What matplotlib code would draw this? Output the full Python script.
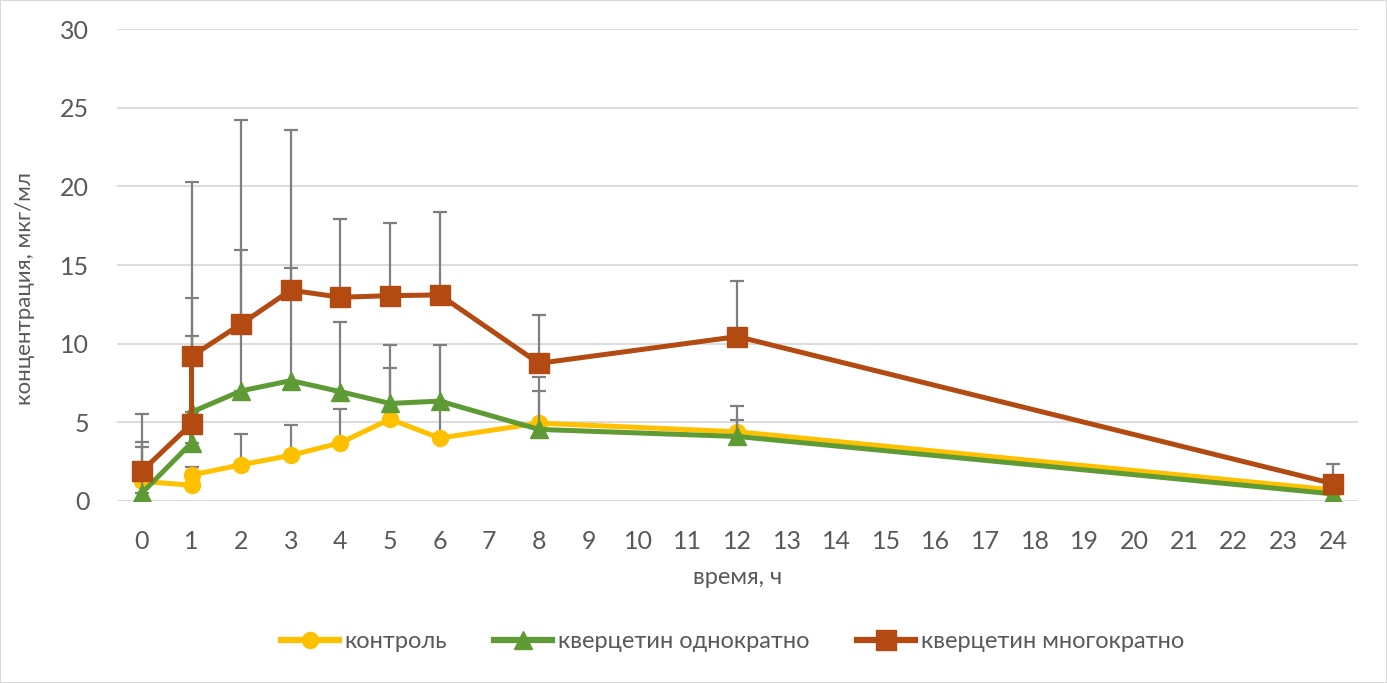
import matplotlib
matplotlib.use("Agg")
import matplotlib.pyplot as plt
from matplotlib.lines import Line2D

plt.rcParams['font.family'] = ['Lato', 'DejaVu Sans']

# time points (two measurements plotted at hour 1)
hours = [0, 1, 1, 2, 3, 4, 5, 6, 8, 12, 24]
x_ticks = list(range(0, 25))
y_ticks = [0, 5, 10, 15, 20, 25, 30]

control = [1.25, 1.0, 1.65, 2.3, 2.9, 3.7, 5.2, 4.0, 4.95, 4.4, 0.7]
control_err = [2.5, 0.5, 0.5, 1.95, 1.9, 2.15, 3.25, 2.2, 2.05, 0.75, 0.2]

single = [0.5, 3.7, 5.65, 7.0, 7.65, 6.95, 6.2, 6.35, 4.55, 4.1, 0.45]
single_err = [2.9, 0.6, 4.85, 8.95, 7.15, 4.45, 3.7, 3.55, 3.3, 1.95, 0.2]

multi = [1.9, 4.9, 9.2, 11.25, 13.4, 12.95, 13.05, 13.1, 8.75, 10.45, 1.1]
multi_err = [3.6, 8.0, 11.1, 12.95, 10.2, 4.95, 4.6, 5.25, 3.05, 3.55, 1.25]

labels = ['контроль', 'кверцетин однократно', 'кверцетин многократно']
colors = ['#FFC000', '#5E9B35', '#B34A12']
markers = ['o', '^', 's']
msizes = [11.5, 13, 14]

fig = plt.figure(figsize=(13.87, 6.83), dpi=100)
ax = fig.add_axes([0.0844, 0.2665, 0.8946, 0.691])

series = [(control, control_err), (single, single_err), (multi, multi_err)]
for i, (vals, errs) in enumerate(series):
    ax.errorbar(hours, vals, yerr=[[0]*len(errs), errs], fmt='none',
                ecolor='#7F7F7F', elinewidth=1.6, capsize=5, capthick=1.6,
                zorder=2 + 2*i)
    ax.plot(hours, vals, color=colors[i], lw=3.6, marker=markers[i],
            ms=msizes[i], zorder=3 + 2*i, solid_joinstyle='round')

ax.set_xlim(-0.5, 24.5)
ax.set_ylim(0, 30)
ax.set_xticks(x_ticks)
ax.set_yticks(y_ticks)
ax.grid(axis='y', color='#D9D9D9', lw=1.3)
ax.set_axisbelow(True)
for s in ax.spines.values():
    s.set_visible(False)
ax.tick_params(length=0, labelsize=18, colors='#595959')
ax.tick_params(axis='x', pad=21)
ax.tick_params(axis='y', pad=20)
ax.set_xlabel('время, ч', fontsize=17, color='#595959', labelpad=10)
ax.set_ylabel('концентрация, мкг/мл', fontsize=16, color='#595959')
ax.yaxis.set_label_coords(-0.066, 0.45)

handles = [Line2D([0], [0], color=colors[i], lw=4.5, marker=markers[i], ms=msizes[i])
           for i in range(3)]
fig.legend(handles, labels, loc='center', bbox_to_anchor=(0.528, 0.061), ncol=3,
           frameon=False, fontsize=17, labelcolor='#595959', handlelength=2.46,
           handletextpad=0.25, columnspacing=2.0)

fig.patches.append(plt.Rectangle((0, 0), 1, 1, transform=fig.transFigure,
                                 fill=False, ec='#D9D9D9', lw=1.5))
fig.savefig('out.png', dpi=100)
